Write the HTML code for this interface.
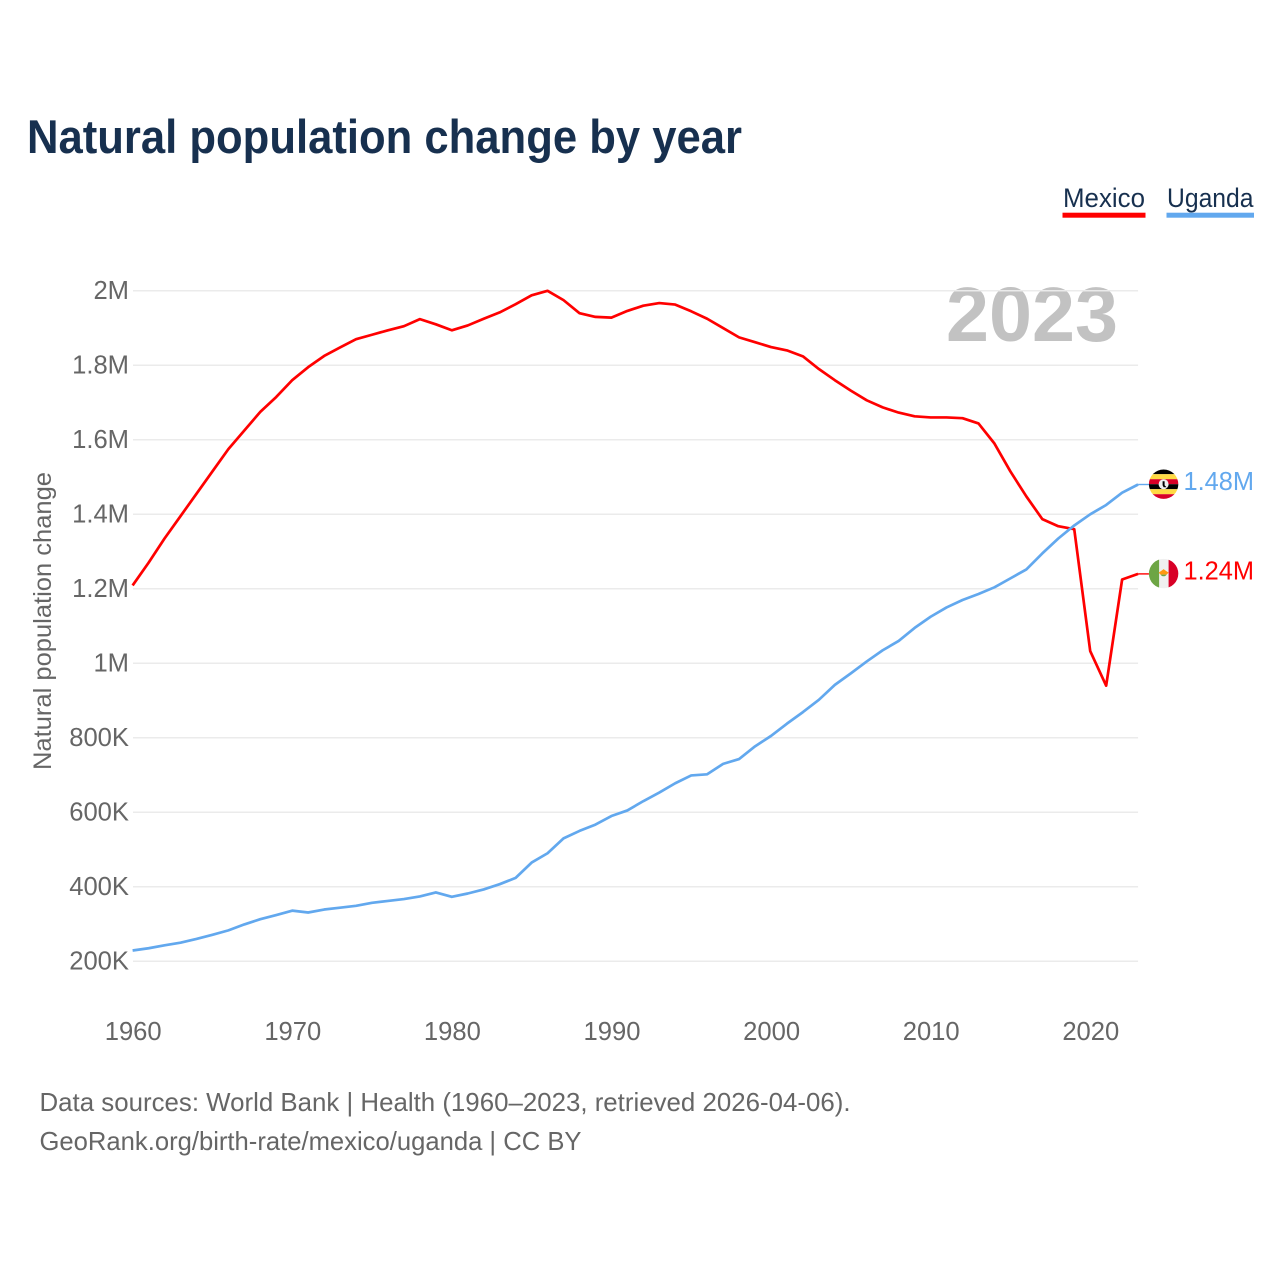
<!DOCTYPE html>
<html lang="en">
<head>
<meta charset="utf-8">
<title>Natural population change by year</title>
<style>
html,body{margin:0;padding:0;background:#fff;}
svg{display:block;font-family:"Liberation Sans",sans-serif;}
</style>
</head>
<body>
<svg id="chart" width="1280" height="1280" viewBox="0 0 1280 1280" xmlns="http://www.w3.org/2000/svg">
  <defs>
    <clipPath id="flag-clip-ug"><circle cx="0" cy="0" r="14.7"></circle></clipPath>
    <clipPath id="flag-clip-mx"><circle cx="0" cy="0" r="14.7"></circle></clipPath>
  </defs>
  <rect width="1280" height="1280" fill="#ffffff"></rect>
  <text x="27" y="153" font-size="47" font-weight="700" fill="#17304f" textLength="715" lengthAdjust="spacingAndGlyphs">Natural population change by year</text>

  <g>
    <g>
      <text x="1063" y="207" font-size="26.5" fill="#17304f" textLength="82" lengthAdjust="spacingAndGlyphs">Mexico</text>
      <rect x="1062.5" y="212.7" width="83" height="5" fill="#ff0000"></rect>
    </g>
    <g>
      <text x="1167" y="207" font-size="26.5" fill="#17304f" textLength="86.5" lengthAdjust="spacingAndGlyphs">Uganda</text>
      <rect x="1166.5" y="212.7" width="87.5" height="5" fill="#62a8ee"></rect>
    </g>
  </g>

  <text x="946" y="341" font-size="77" font-weight="700" fill="#c2c2c2" textLength="172" lengthAdjust="spacingAndGlyphs">2023</text>

  <g id="grid"></g>
  <g id="y-axis"></g>
  <g id="x-axis"></g>
  <text transform="translate(51,621) rotate(-90)" text-anchor="middle" font-size="25" fill="#666666" textLength="298" lengthAdjust="spacingAndGlyphs">Natural population change</text>
  <g id="series"></g>

  <g id="flag-uganda">
    <g clip-path="url(#flag-clip-ug)">
      <rect x="-15" y="-15" width="30" height="5" fill="#000000"></rect>
      <rect x="-15" y="-10" width="30" height="5" fill="#ffda44"></rect>
      <rect x="-15" y="-5" width="30" height="5" fill="#d80027"></rect>
      <rect x="-15" y="0" width="30" height="5" fill="#000000"></rect>
      <rect x="-15" y="5" width="30" height="5" fill="#ffda44"></rect>
      <rect x="-15" y="10" width="30" height="5" fill="#d80027"></rect>
      <circle cx="0" cy="0" r="5" fill="#f0f0f0"></circle>
      <path d="M-1 -3 L1 -3 L1 1 L3 3 L0 3 L-1 1 Z" fill="#000000"></path>
    </g>
  </g>
  <g id="flag-mexico">
    <g clip-path="url(#flag-clip-mx)">
      <rect x="-15" y="-15" width="30" height="30" fill="#f0f0f0"></rect>
      <rect x="-15" y="-15" width="10.5" height="30" fill="#6da544"></rect>
      <rect x="5" y="-15" width="10" height="30" fill="#d80027"></rect>
      <path d="M-5 -1 L-2 -3 L0 -4.5 L2 -3 L5 -1 L3 1 L-3 1 Z" fill="#ff9811"></path>
      <path d="M-3 1 A3.5 3.5 0 0 0 3 1 Z" fill="#6da544"></path>
    </g>
  </g>

  <g>
    <text x="39.5" y="1111" font-size="26" fill="#666666" textLength="811" lengthAdjust="spacingAndGlyphs">Data sources: World Bank | Health (1960–2023, retrieved 2026-04-06).</text>
    <text x="39.5" y="1150" font-size="26" fill="#666666" textLength="542" lengthAdjust="spacingAndGlyphs">GeoRank.org/birth-rate/mexico/uganda | CC BY</text>
  </g>
</svg>
<script>
const years = [1960,1961,1962,1963,1964,1965,1966,1967,1968,1969,1970,1971,1972,1973,1974,1975,1976,1977,1978,1979,1980,1981,1982,1983,1984,1985,1986,1987,1988,1989,1990,1991,1992,1993,1994,1995,1996,1997,1998,1999,2000,2001,2002,2003,2004,2005,2006,2007,2008,2009,2010,2011,2012,2013,2014,2015,2016,2017,2018,2019,2020,2021,2022,2023];
const mexicoValues = [1.209,1.270,1.335,1.395,1.455,1.515,1.575,1.625,1.675,1.715,1.760,1.795,1.825,1.848,1.870,1.882,1.894,1.905,1.924,1.910,1.894,1.907,1.925,1.942,1.964,1.988,2.000,1.975,1.940,1.930,1.928,1.946,1.960,1.967,1.963,1.945,1.925,1.900,1.875,1.862,1.849,1.840,1.824,1.790,1.760,1.732,1.706,1.687,1.673,1.663,1.660,1.660,1.658,1.644,1.590,1.515,1.448,1.387,1.368,1.360,1.033,0.940,1.225,1.240];
const ugandaValues = [0.229,0.235,0.243,0.250,0.260,0.271,0.283,0.299,0.313,0.324,0.336,0.331,0.339,0.344,0.349,0.357,0.362,0.367,0.374,0.385,0.373,0.382,0.393,0.407,0.424,0.465,0.490,0.530,0.550,0.567,0.590,0.605,0.630,0.653,0.678,0.699,0.702,0.730,0.743,0.777,0.805,0.838,0.869,0.902,0.942,0.973,1.005,1.035,1.060,1.095,1.125,1.150,1.170,1.186,1.204,1.228,1.252,1.295,1.335,1.370,1.400,1.425,1.458,1.480];
const yTickValues = [0.2,0.4,0.6,0.8,1.0,1.2,1.4,1.6,1.8,2.0];
const yTickLabels = ["200K","400K","600K","800K","1M","1.2M","1.4M","1.6M","1.8M","2M"];
const xTickValues = [1960,1970,1980,1990,2000,2010,2020];
const xTickLabels = ["1960","1970","1980","1990","2000","2010","2020"];

const NS = "http://www.w3.org/2000/svg";
const xScale = function (year) { return 132.6 + (year - 1960) * 15.96; };
const yScale = function (v) { return 663.3 + (1 - v) * 372.5; };
const formatValue = function (v) {
  return v >= 1 ? (Math.round(v * 100) / 100) + "M" : Math.round(v * 1000) + "K";
};
const make = function (tag, attrs, parent) {
  const el = document.createElementNS(NS, tag);
  Object.keys(attrs).forEach(function (k) { el.setAttribute(k, attrs[k]); });
  parent.appendChild(el);
  return el;
};
const gridGroup = document.getElementById("grid");
const yGroup = document.getElementById("y-axis");
const xGroup = document.getElementById("x-axis");
const seriesGroup = document.getElementById("series");
const xEnd = xScale(years[years.length - 1]);

yTickValues.forEach(function (v, i) {
  const line = make("line", {x1: 133, x2: xEnd, y1: yScale(v), y2: yScale(v), stroke: "#ebebeb", "stroke-width": 1.5}, gridGroup);
  
  
  const t = make("text", {x: 129, y: yScale(v) + 8, "text-anchor": "end", "font-size": 25.6, fill: "#666666"}, yGroup);
  
  
  t.textContent = yTickLabels[i];
});

xTickValues.forEach(function (yr, i) {
  const t = make("text", {x: xScale(yr) + 0.6, y: 1040, "text-anchor": "middle", "font-size": 25.6, fill: "#666666"}, xGroup);
  
  
  t.textContent = xTickLabels[i];
});

function pointsFor(values) {
  return values.map(function (v, i) { return xScale(years[i]).toFixed(2) + "," + yScale(v).toFixed(2); }).join(" ");
}
function drawEnd(values, color, flagId, key) {
  const last = values[values.length - 1];
  const y = yScale(last);
  const connector = make("line", {x1: xEnd, x2: 1150, y1: y, y2: y, stroke: color, "stroke-width": 1.4}, seriesGroup);
  
  
  document.getElementById(flagId).setAttribute("transform", "translate(1163.6," + (y - 0.3).toFixed(2) + ")");
  const label = make("text", {x: 1183.5, y: y + 5.6, "font-size": 26, fill: color, textLength: 70.5, lengthAdjust: "spacingAndGlyphs"}, seriesGroup);
  
  
  label.setAttribute('data-series', key);
  label.textContent = formatValue(last);
}

const lineMexico = make("polyline", {points: pointsFor(mexicoValues), fill: "none", stroke: "#ff0000", "stroke-width": 2.7, "stroke-linejoin": "round"}, seriesGroup);


const lineUganda = make("polyline", {points: pointsFor(ugandaValues), fill: "none", stroke: "#62a8ee", "stroke-width": 2.7, "stroke-linejoin": "round"}, seriesGroup);



drawEnd(mexicoValues, "#ff0000", "flag-mexico", "mexico");
drawEnd(ugandaValues, "#62a8ee", "flag-uganda", "uganda");
</script>
</body>
</html>
